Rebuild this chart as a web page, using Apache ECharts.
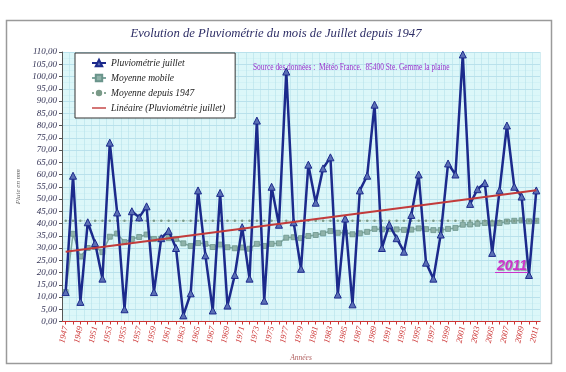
<!DOCTYPE html>
<html><head><meta charset="utf-8">
<script src="https://cdn.jsdelivr.net/npm/echarts@6/dist/echarts.min.js"></script>
<style>html,body{margin:0;padding:0;background:#fff}#c{width:566px;height:372px}</style>
</head><body><div id="c"></div>
<script>
const years = ['1947','1948','1949','1950','1951','1952','1953','1954','1955','1956','1957','1958','1959','1960','1961','1962','1963','1964','1965','1966','1967','1968','1969','1970','1971','1972','1973','1974','1975','1976','1977','1978','1979','1980','1981','1982','1983','1984','1985','1986','1987','1988','1989','1990','1991','1992','1993','1994','1995','1996','1997','1998','1999','2000','2001','2002','2003','2004','2005','2006','2007','2008','2009','2010','2011'];
const pluie = [12,59.5,8,40.5,32,17.5,73,44.5,5,45,42.5,47,12,34,37,30,2.5,11.5,53.5,27,4.5,52.5,6.5,19,38.5,17.5,82,8.5,55,39.5,102,40.5,21.5,64,48.5,62.5,67,11,42,7,53.5,59.5,88.5,30,39.5,34,28.5,43.5,60,24,17.5,35.5,64.5,60,109,48,54,56.5,28,53.5,80,55,51,19,53.5];
const moyMobile = [12.0,35.8,26.5,30.0,30.4,28.3,34.6,35.9,32.4,33.7,34.5,35.5,33.7,33.8,34.0,33.7,31.9,30.8,32.0,31.7,30.4,31.4,30.3,29.9,30.2,29.7,31.7,30.8,31.7,31.9,34.2,34.4,34.0,34.9,35.3,36.0,36.9,36.2,36.3,35.6,36.0,36.6,37.8,37.6,37.7,37.6,37.4,37.5,38.0,37.7,37.3,37.3,37.8,38.2,39.5,39.6,39.9,40.2,40.0,40.2,40.8,41.1,41.3,40.9,41.1];
const moyDepuis = [41.1,41.1,41.1,41.1,41.1,41.1,41.1,41.1,41.1,41.1,41.1,41.1,41.1,41.1,41.1,41.1,41.1,41.1,41.1,41.1,41.1,41.1,41.1,41.1,41.1,41.1,41.1,41.1,41.1,41.1,41.1,41.1,41.1,41.1,41.1,41.1,41.1,41.1,41.1,41.1,41.1,41.1,41.1,41.1,41.1,41.1,41.1,41.1,41.1,41.1,41.1,41.1,41.1,41.1,41.1,41.1,41.1,41.1,41.1,41.1,41.1,41.1,41.1,41.1,41.1];
const trendYears = ['1947','2011'];
const trendValues = [28.5, 53.6];
const yTicks = {min:0, max:110, step:5};

const chart = echarts.init(document.getElementById('c'), null, {renderer:'canvas'});
const serif = '"Liberation Serif", "DejaVu Serif", serif';
chart.setOption({
  animation:false,
  backgroundColor:'#ffffff',
  title:{text:'Evolution de Pluviométrie du mois de Juillet depuis 1947', left:271, top:22, textAlign:'center',
    textStyle:{fontFamily:serif, fontStyle:'italic', fontWeight:'normal', fontSize:12.7, color:'#2e2e66'}},
  legend:{orient:'vertical', left:75, top:53, padding:[5,10,5,16], itemGap:5, itemWidth:14, itemHeight:8,
    backgroundColor:'#ffffff', borderColor:'#333', borderWidth:1,
    textStyle:{fontFamily:serif, fontStyle:'italic', fontSize:9.5, color:'#222'},
    data:['Pluviométrie juillet','Moyenne mobile','Moyenne depuis 1947',
      {name:'Linéaire (Pluviométrie juillet)', icon:'path://M0,9 L40,9 L40,13 L0,13 Z'}]},
  grid:{left:62, right:26, top:52, bottom:50.5, show:true, backgroundColor:'#dcf7f9', borderWidth:0},
  xAxis:{type:'category', data:years, boundaryGap:true,
    name:'Années', nameLocation:'middle', nameGap:33,
    nameTextStyle:{fontFamily:serif, fontStyle:'italic', fontSize:7.5, color:'#b06060'},
    axisLine:{lineStyle:{color:'#cc3333', width:1.2}},
    axisTick:{show:true, interval:0, alignWithLabel:true, length:3, lineStyle:{color:'#cc3333'}},
    axisLabel:{interval:1, rotate:78, fontFamily:serif, fontStyle:'italic', fontSize:8.5, color:'#cc3333', margin:5},
    splitLine:{show:true, interval:0, lineStyle:{color:'#b5e0ea', width:0.6}}},
  yAxis:{type:'value', min:yTicks.min, max:yTicks.max, interval:yTicks.step,
    name:'Pluie en mm', nameLocation:'middle', nameGap:40, nameRotate:90,
    nameTextStyle:{fontFamily:serif, fontStyle:'italic', fontSize:7, color:'#666'},
    axisLine:{show:true, lineStyle:{color:'#555'}},
    axisTick:{show:true, length:3, lineStyle:{color:'#555'}},
    axisLabel:{fontFamily:serif, fontStyle:'italic', fontSize:9, color:'#333355', margin:5,
      formatter:v=>v.toFixed(2).replace('.',',')},
    splitLine:{show:true, lineStyle:{color:'#a9d7e6', width:0.7}},
    minorTick:{show:false, splitNumber:2},
    minorSplitLine:{show:true, lineStyle:{color:'#c9edf3', width:0.5}}},
  series:[
    {name:'Pluviométrie juillet', type:'line', data:pluie, z:3,
      symbol:'triangle', symbolSize:7, showAllSymbol:true,
      lineStyle:{color:'#1c2a8c', width:2.5},
      itemStyle:{color:'#5b6fb5', borderColor:'#1c2a8c', borderWidth:1}},
    {name:'Moyenne mobile', type:'line', data:moyMobile, z:2,
      symbol:'rect', symbolSize:5, showAllSymbol:true,
      lineStyle:{color:'#7fa79f', width:1.5},
      itemStyle:{color:'#8fb2a9', borderColor:'#6a948b', borderWidth:0.8}},
    {name:'Moyenne depuis 1947', type:'line', data:moyDepuis, z:2,
      symbol:'circle', symbolSize:2.5, showAllSymbol:true,
      lineStyle:{color:'#8aa898', width:1, type:'dotted'},
      itemStyle:{color:'#7a9a88'}},
    {name:'Linéaire (Pluviométrie juillet)', type:'line', z:4,
      data:[[trendYears[0], trendValues[0]],[trendYears[1], trendValues[1]]],
      symbol:'none', lineStyle:{color:'#c23b3b', width:2},
      itemStyle:{color:'#c23b3b'}}
  ],
  graphic:[
    {type:'rect', left:4, top:18, shape:{width:545, height:343}, silent:true, z:-10,
      style:{fill:'none', stroke:'#9a9a9a', lineWidth:1.5}},
    {type:'text', left:253, top:62, scaleX:0.74, z:10,
      style:{text:'Source des données :  Météo France.  85400 Ste. Gemme la plaine', fill:'#9933cc',
        font:'10px "Liberation Serif", serif'}},
    {type:'text', left:497, top:259, z:10,
      style:{text:'2011', fill:'#cc33cc', font:'italic bold 14px "Liberation Sans", Arial, sans-serif',
        textShadowColor:'rgba(80,80,80,0.5)', textShadowOffsetX:1, textShadowOffsetY:1, textShadowBlur:1}},
    {type:'line', z:10, shape:{x1:495, y1:272.5, x2:528, y2:272.5}, style:{stroke:'#cc33cc', lineWidth:1.2}}
  ]
});
</script></body></html>
